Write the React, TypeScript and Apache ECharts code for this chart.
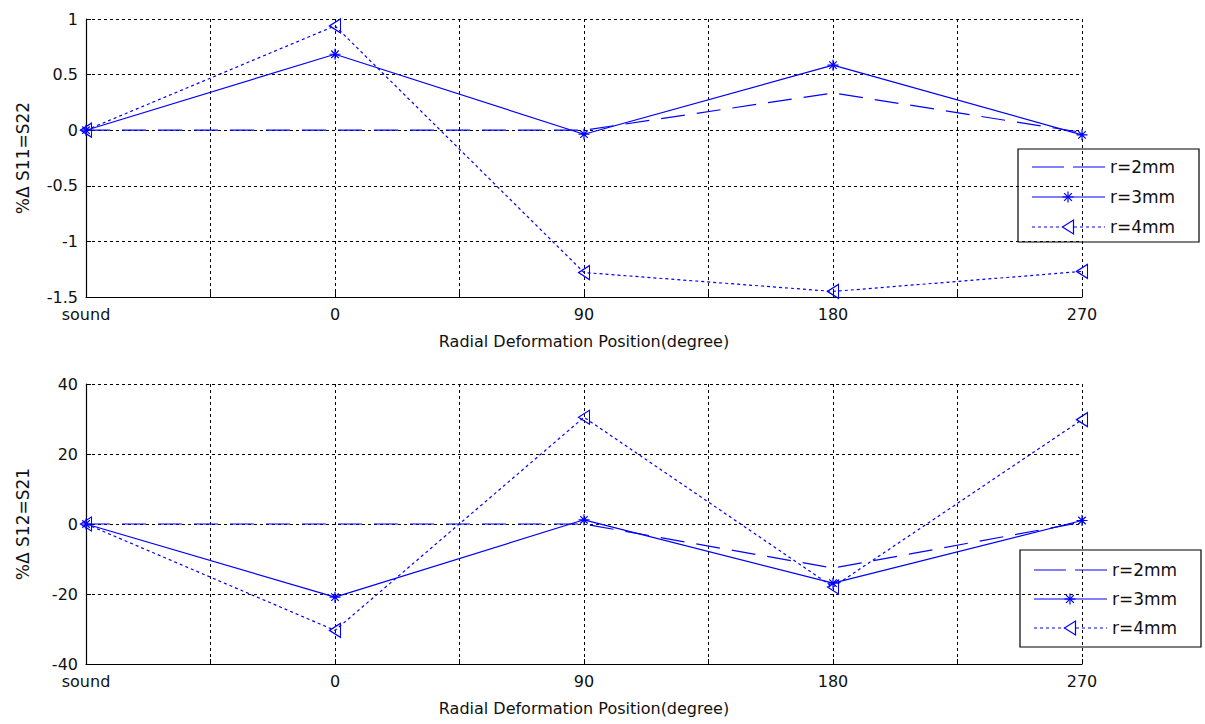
import React, { useEffect, useRef } from "react";
import * as echarts from "echarts";

const categories = ["sound", "0", "90", "180", "270"];
const s11_r2 = [0, 0, 0, 0.335, -0.02];
const s11_r3 = [0, 0.683, -0.036, 0.585, -0.042];
const s11_r4 = [0, 0.938, -1.28, -1.45, -1.27];
const s12_r2 = [0, 0, 0, -12.6, 0.5];
const s12_r3 = [0, -20.9, 1.2, -16.9, 1.0];
const s12_r4 = [0, -30.4, 30.5, -18.0, 29.8];
const seriesNames = ["r=2mm", "r=3mm", "r=4mm"];
const topYLabel = "%\u0394 S11=S22";
const botYLabel = "%\u0394 S12=S21";
const xLabel = "Radial Deformation Position(degree)";

const BLUE = "#0000ff";
const FONT = "DejaVu Sans, sans-serif";
const TXT = "#111";
const ASTERISK = "path://M5,0L5,10M0,5L10,5M1.6,1.6L8.4,8.4M8.4,1.6L1.6,8.4";
const TRI_LEFT = "path://M0,5L10,0L10,10Z";

const lineStyles: any[] = [
  { type: [24, 12], width: 1.2 },
  { type: "solid", width: 1.2 },
  { type: [3, 3], width: 1.2 },
];
const symbols = ["none", ASTERISK, TRI_LEFT];
const symbolSizes: any[] = [0, [11, 11], [11, 14]];

function makeSeries(values: number[], idx: number, axisIdx: number) {
  return {
    type: "line",
    name: seriesNames[idx],
    xAxisIndex: axisIdx,
    yAxisIndex: axisIdx,
    data: values.map((v, i) => [i, v]),
    symbol: symbols[idx],
    symbolSize: symbolSizes[idx],
    showSymbol: idx !== 0,
    lineStyle: { color: BLUE, ...lineStyles[idx] },
    itemStyle: { color: "none", borderColor: BLUE, borderWidth: 1.2 },
    z: 5,
  };
}

function xAxis(gridIndex: number) {
  return {
    type: "value",
    gridIndex,
    min: 0,
    max: 4,
    interval: 0.5,
    name: xLabel,
    nameLocation: "middle",
    nameGap: 36,
    nameTextStyle: { fontFamily: FONT, fontSize: 16, color: TXT },
    axisLine: { onZero: false, lineStyle: { color: "#000", width: 1.2 } },
    axisTick: { inside: true, length: 5, lineStyle: { color: "#000" } },
    axisLabel: {
      fontFamily: FONT,
      fontSize: 16,
      color: TXT,
      margin: 9,
      showMinLabel: true,
      showMaxLabel: true,
      formatter: (v: number) => (Number.isInteger(v) ? categories[v] : ""),
    },
    splitLine: { show: true, lineStyle: { color: "#000", type: [3, 3], width: 1 } },
  };
}

function yAxis(gridIndex: number, min: number, max: number, interval: number, name: string) {
  return {
    type: "value",
    gridIndex,
    min,
    max,
    interval,
    name,
    nameLocation: "middle",
    nameGap: 55,
    nameTextStyle: { fontFamily: FONT, fontSize: 17, color: TXT },
    axisLine: { show: true, onZero: false, lineStyle: { color: "#000", width: 1.2 } },
    axisTick: { show: true, inside: true, length: 5, lineStyle: { color: "#000" } },
    axisLabel: { fontFamily: FONT, fontSize: 16, color: TXT, margin: 8 },
    splitLine: { show: true, lineStyle: { color: "#000", type: [3, 3], width: 1 } },
  };
}

function legendGroup(x: number, y: number, w: number, h: number, rows: number[]) {
  const children: any[] = [
    {
      type: "rect",
      shape: { x, y, width: w, height: h },
      style: { fill: "#fff", stroke: "#000", lineWidth: 1.2 },
    },
  ];
  const lx0 = x + 14;
  const lx1 = x + 87;
  const mx = x + 50;
  rows.forEach((ry, i) => {
    children.push({
      type: "line",
      shape: { x1: lx0, y1: ry, x2: lx1, y2: ry },
      style: {
        stroke: BLUE,
        lineWidth: 1.2,
        lineDash: i === 0 ? [32, 9] : i === 2 ? [3, 3] : null,
      },
    });
    if (i === 1) {
      const s = 5.5;
      const d = 3.9;
      [
        [mx, ry - s, mx, ry + s],
        [mx - s, ry, mx + s, ry],
        [mx - d, ry - d, mx + d, ry + d],
        [mx + d, ry - d, mx - d, ry + d],
      ].forEach((p) =>
        children.push({
          type: "line",
          shape: { x1: p[0], y1: p[1], x2: p[2], y2: p[3] },
          style: { stroke: BLUE, lineWidth: 1.2 },
        })
      );
    }
    if (i === 2) {
      children.push({
        type: "polygon",
        shape: { points: [[mx - 5.5, ry], [mx + 5.5, ry - 7], [mx + 5.5, ry + 7]] },
        style: { fill: "#fff", stroke: BLUE, lineWidth: 1.2 },
      });
    }
    children.push({
      type: "text",
      x: x + 92,
      y: ry,
      style: {
        text: seriesNames[i],
        fontFamily: FONT,
        fontSize: 17,
        fill: TXT,
        verticalAlign: "middle",
        align: "left",
      },
    });
  });
  return { type: "group", children, z: 100 };
}

export default function App() {
  const ref = useRef<HTMLDivElement>(null);
  useEffect(() => {
    if (!ref.current) return;
    const chart = echarts.init(ref.current, null, { renderer: "svg" });
    chart.setOption({
      animation: false,
      backgroundColor: "#fff",
      grid: [
        { left: 86, top: 19, width: 996, height: 278, containLabel: false },
        { left: 86, top: 384, width: 996, height: 280, containLabel: false },
      ],
      xAxis: [xAxis(0), xAxis(1)],
      yAxis: [yAxis(0, -1.5, 1, 0.5, topYLabel), yAxis(1, -40, 40, 20, botYLabel)],
      series: [
        makeSeries(s11_r2, 0, 0),
        makeSeries(s11_r3, 1, 0),
        makeSeries(s11_r4, 2, 0),
        makeSeries(s12_r2, 0, 1),
        makeSeries(s12_r3, 1, 1),
        makeSeries(s12_r4, 2, 1),
      ],
      graphic: [
        legendGroup(1018, 149, 181, 93, [167, 197, 227]),
        legendGroup(1020, 550, 181, 97, [570, 599, 628]),
      ],
    });
    return () => chart.dispose();
  }, []);
  return (
    <div
      ref={ref}
      style={{ position: "absolute", left: 0, top: 0, width: 1205, height: 724, background: "#fff" }}
    />
  );
}
